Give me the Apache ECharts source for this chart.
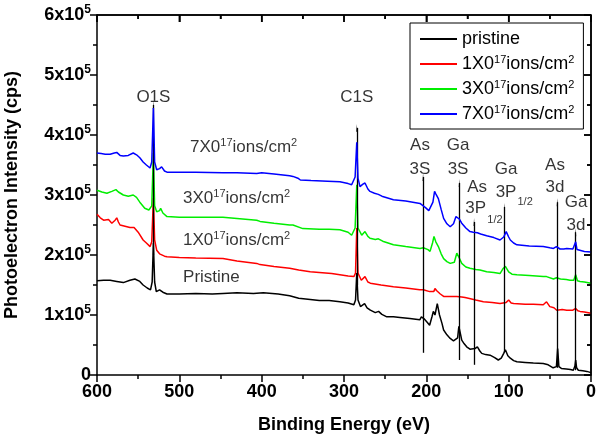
<!DOCTYPE html>
<html><head><meta charset="utf-8">
<script src="https://cdn.jsdelivr.net/npm/echarts@6/dist/echarts.min.js"></script>
<style>html,body{margin:0;padding:0;background:#fff}#c{width:600px;height:441px;background:#fff}#err{position:absolute;left:2px;top:428px;font:9px sans-serif;color:#999}</style>
</head><body><div id="c"></div><div id="err"></div>
<script>
// ---------- data ----------
const seriesNames = ['pristine', '1X0', '3X0', '7X0'];
const legendTexts = ['{n|pristine}', '{n|1X0}{s|17}{n|ions/cm}{s|2}', '{n|3X0}{s|17}{n|ions/cm}{s|2}', '{n|7X0}{s|17}{n|ions/cm}{s|2}'];
const seriesColors = ['#000000', '#ff0000', '#00ee00', '#0000ff'];
const yTickMantissa = ['0', '1', '2', '3', '4', '5', '6'];
const yTickExponent = '5';
const xTitle = 'Binding Energy (eV)';
const yTitle = 'Photoelectron Intensity (cps)';
const xRange = [0, 600];
const yRange = [0, 6e5];
const xTickValues = [0, 100, 200, 300, 400, 500, 600];
const xMinorValues = [50, 150, 250, 350, 450, 550];
const yTickValues = [0, 1e5, 2e5, 3e5, 4e5, 5e5, 6e5];
const yMinorValues = [0.5e5, 1.5e5, 2.5e5, 3.5e5, 4.5e5, 5.5e5];

const pristine = [
[600,1.57e5],[592,1.58e5],[584,1.58e5],[576,1.56e5],[568,1.54e5],[560,1.58e5],[554,1.60e5],[548,1.56e5],[544,1.50e5],[539,1.45e5],[535,1.42e5],[533,1.55e5],[531.5,2.20e5],[530,1.55e5],[528,1.39e5],[524,1.42e5],[520,1.38e5],[515,1.35e5],[500,1.35e5],[480,1.36e5],[460,1.35e5],[447,1.36e5],[430,1.37e5],[410,1.36e5],[398,1.37e5],[380,1.35e5],[366,1.32e5],[355,1.28e5],[341,1.26e5],[330,1.24e5],[318,1.24e5],[305,1.22e5],[295,1.20e5],[288,1.17e5],[286,1.25e5],[284.5,1.70e5],[283,1.25e5],[280,1.14e5],[275,1.19e5],[272,1.12e5],[268,1.08e5],[262,1.04e5],[258,1.06e5],[254,1.01e5],[248,0.97e5],[240,0.97e5],[232,0.96e5],[220,0.94e5],[208,0.92e5],[206,0.97e5],[203,0.94e5],[199,0.88e5],[196,0.83e5],[193,0.98e5],[191.5,1.06e5],[189.5,1.00e5],[186.7,1.19e5],[184,1.00e5],[181,0.86e5],[179,0.75e5],[175,0.67e5],[171,0.61e5],[167,0.57e5],[165,0.56e5],[162,0.62e5],[160.5,0.81e5],[158.5,0.68e5],[157,0.58e5],[154,0.52e5],[151,0.47e5],[147,0.43e5],[145,0.42e5],[141,0.44e5],[138,0.47e5],[135,0.40e5],[132.7,0.36e5],[128,0.34e5],[122.6,0.33e5],[117,0.29e5],[112.6,0.25e5],[109,0.28e5],[106,0.36e5],[104,0.42e5],[101,0.32e5],[98,0.28e5],[94,0.24e5],[90,0.22e5],[80,0.21e5],[70,0.20e5],[58,0.19e5],[52,0.17e5],[46,0.12e5],[42,0.14e5],[40.5,0.44e5],[39,0.14e5],[36,0.11e5],[30,0.10e5],[25,0.09e5],[21.5,0.08e5],[19.5,0.15e5],[18.6,0.25e5],[17.5,0.12e5],[15.4,0.08e5],[10,0.07e5],[5,0.06e5],[0,0.04e5]
];
const ion1 = [
[600,2.68e5],[596,2.62e5],[592,2.58e5],[586,2.59e5],[582,2.53e5],[578,2.58e5],[576,2.62e5],[574,2.55e5],[572,2.50e5],[566,2.48e5],[560,2.46e5],[555,2.46e5],[550,2.38e5],[544,2.25e5],[540,2.20e5],[535.5,2.14e5],[533.5,2.22e5],[531.5,2.95e5],[530,2.25e5],[527.5,2.08e5],[524,2.02e5],[522,2.04e5],[518,1.98e5],[515,1.97e5],[500,1.96e5],[480,1.95e5],[447,1.94e5],[430,1.90e5],[406,1.86e5],[402,1.84e5],[385,1.81e5],[366,1.78e5],[355,1.75e5],[341,1.72e5],[330,1.71e5],[315,1.69e5],[305,1.67e5],[295,1.65e5],[288,1.64e5],[286,1.70e5],[284.5,2.45e5],[283,1.70e5],[279,1.58e5],[274.5,1.64e5],[271,1.55e5],[268,1.53e5],[255,1.50e5],[240,1.47e5],[225,1.45e5],[208,1.42e5],[203.6,1.42e5],[196,1.39e5],[191,1.39e5],[189.5,1.44e5],[187,1.40e5],[183,1.35e5],[179,1.31e5],[170,1.31e5],[163,1.31e5],[157,1.30e5],[153,1.29e5],[151,1.32e5],[149,1.28e5],[140,1.25e5],[130.7,1.22e5],[120,1.21e5],[110.5,1.19e5],[103,1.21e5],[100,1.25e5],[97,1.20e5],[94,1.19e5],[80,1.18e5],[70,1.18e5],[58,1.17e5],[54,1.22e5],[50,1.14e5],[45,1.12e5],[41.6,1.08e5],[35,1.09e5],[29.5,1.08e5],[22,1.08e5],[18.6,1.11e5],[16,1.07e5],[13.3,1.06e5],[8,1.05e5],[0,1.03e5]
];
const ion3 = [
[600,3.08e5],[594,3.05e5],[588,3.03e5],[582,3.06e5],[577,3.09e5],[574,3.05e5],[568,3.00e5],[562,2.98e5],[556,3.00e5],[552,2.96e5],[548,2.88e5],[542,2.78e5],[537,2.75e5],[533.5,2.82e5],[531.5,3.70e5],[530,2.82e5],[527.5,2.72e5],[524,2.74e5],[522.7,2.78e5],[520,2.70e5],[515,2.64e5],[500,2.63e5],[480,2.63e5],[447,2.63e5],[430,2.61e5],[406,2.58e5],[402,2.56e5],[385,2.53e5],[366,2.50e5],[362,2.50e5],[350,2.44e5],[330,2.43e5],[318,2.43e5],[305,2.42e5],[295,2.38e5],[290.7,2.33e5],[286.5,2.45e5],[284.5,3.17e5],[283,2.45e5],[278.5,2.33e5],[274.5,2.39e5],[271,2.31e5],[268.4,2.28e5],[262,2.26e5],[258.3,2.27e5],[253,2.23e5],[240,2.17e5],[225,2.14e5],[207.7,2.11e5],[203.6,2.12e5],[198,2.09e5],[195.5,2.06e5],[192.5,2.20e5],[190.7,2.31e5],[188.5,2.22e5],[185.4,2.14e5],[182,2.02e5],[179,1.94e5],[175,1.89e5],[171,1.86e5],[166,1.88e5],[163,2.03e5],[160,1.95e5],[157,1.86e5],[152,1.80e5],[147,1.78e5],[140,1.76e5],[134.8,1.75e5],[126.7,1.72e5],[118,1.71e5],[110.5,1.69e5],[107,1.77e5],[104,1.81e5],[100,1.72e5],[96,1.68e5],[90,1.67e5],[75,1.66e5],[58,1.64e5],[54,1.64e5],[45.6,1.60e5],[42,1.62e5],[40,1.64e5],[37,1.60e5],[30,1.59e5],[25.5,1.58e5],[21,1.58e5],[18.6,1.67e5],[16.5,1.57e5],[13.3,1.56e5],[8,1.55e5],[0,1.53e5]
];
const ion7 = [
[600,3.70e5],[595,3.69e5],[590,3.68e5],[584,3.68e5],[579,3.70e5],[576,3.71e5],[572,3.66e5],[568,3.65e5],[562,3.66e5],[556,3.70e5],[552,3.67e5],[548,3.62e5],[544,3.55e5],[540,3.50e5],[535.6,3.45e5],[533.5,3.55e5],[531.5,4.45e5],[530,3.55e5],[527.5,3.42e5],[524,3.44e5],[521.5,3.47e5],[518,3.40e5],[515,3.38e5],[500,3.38e5],[480,3.38e5],[447,3.37e5],[430,3.37e5],[406,3.36e5],[400,3.37e5],[385,3.35e5],[366,3.32e5],[362,3.31e5],[356,3.28e5],[353,3.25e5],[340,3.24e5],[320,3.23e5],[305,3.22e5],[295,3.19e5],[290.7,3.17e5],[286.5,3.30e5],[284.5,3.88e5],[283,3.28e5],[280.6,3.14e5],[277,3.18e5],[274.5,3.20e5],[271,3.10e5],[268.4,3.06e5],[263,3.03e5],[258.3,3.01e5],[254,2.98e5],[240,2.92e5],[225,2.90e5],[207.7,2.86e5],[205.6,2.83e5],[201,2.79e5],[197,2.74e5],[195.5,2.72e5],[192,2.88e5],[190,3.06e5],[188.5,3.02e5],[185.4,2.94e5],[182,2.76e5],[179,2.61e5],[175,2.52e5],[171,2.47e5],[167,2.52e5],[164,2.64e5],[163,2.67e5],[160,2.60e5],[157,2.53e5],[152,2.45e5],[147,2.39e5],[143,2.38e5],[138,2.37e5],[134,2.35e5],[126.7,2.32e5],[118,2.29e5],[110.5,2.25e5],[106,2.30e5],[103,2.39e5],[100,2.30e5],[98,2.25e5],[94,2.20e5],[90,2.17e5],[75,2.15e5],[58,2.14e5],[50,2.12e5],[45.6,2.11e5],[42,2.14e5],[40,2.17e5],[37.6,2.10e5],[33,2.10e5],[29.5,2.11e5],[22,2.10e5],[18.6,2.22e5],[17,2.09e5],[15.4,2.08e5],[8,2.06e5],[0,2.05e5]
];

// arrows: [binding energy, from intensity, to intensity]
const arrows = [
[531.5, 2.0e5, 4.50e5],
[284.5, 1.5e5, 4.12e5],
[204, 0.37e5, 3.30e5],
[160, 0.25e5, 3.20e5],
[142, 0.17e5, 2.55e5],
[105, 0.38e5, 2.80e5],
[41, 0.12e5, 2.88e5],
[18.6, 0.08e5, 2.38e5]
];
// labels: [binding energy, intensity, text, align]
const annotations = [
[531.5, 4.63e5, '{n|O1S}', 'center'],
[284.5, 4.63e5, '{n|C1S}', 'center'],
[207.7, 3.83e5, '{n|As}', 'center'],
[207.7, 3.43e5, '{n|3S}', 'center'],
[161.5, 3.83e5, '{n|Ga}', 'center'],
[161.5, 3.43e5, '{n|3S}', 'center'],
[138.4, 3.12e5, '{n|As}', 'center'],
[140.0, 2.77e5, '{n|3P}', 'center'],
[116.6, 2.58e5, '{sub|1/2}', 'center'],
[103.2, 3.42e5, '{n|Ga}', 'center'],
[103.2, 3.05e5, '{n|3P}', 'center'],
[80.0, 2.88e5, '{sub|1/2}', 'center'],
[43.7, 3.50e5, '{n|As}', 'center'],
[43.7, 3.12e5, '{n|3d}', 'center'],
[18.2, 2.88e5, '{n|Ga}', 'center'],
[18.2, 2.50e5, '{n|3d}', 'center'],
[487, 3.80e5, '{n|7X0}{s|17}{n|ions/cm}{s|2}', 'left'],
[495.5, 2.95e5, '{n|3X0}{s|17}{n|ions/cm}{s|2}', 'left'],
[495.5, 2.25e5, '{n|1X0}{s|17}{n|ions/cm}{s|2}', 'left'],
[495.5, 1.63e5, '{n|Pristine}', 'left']
];

// ---------- chart ----------
const FONT = 'Liberation Sans, Arial, Helvetica, sans-serif';
const chart = echarts.init(document.getElementById('c'));
const errBox = document.getElementById('err');
function richFor(size) {
  return {
    n: {fontSize: size, fontFamily: FONT, color: '#000', lineHeight: 20},
    s: {fontSize: 11, fontFamily: FONT, color: '#000', verticalAlign: 'top', lineHeight: 10},
    sub: {fontSize: 11, fontFamily: FONT, color: '#000'}
  };
}
function axisLineStyle() { return {show: true, onZero: false, lineStyle: {color: '#000', width: 1.5}}; }
function tickStyle(inside) { return {show: true, inside: inside, length: 7, lineStyle: {color: '#000', width: 1.5}}; }
function minorStyle() { return {show: true, splitNumber: 2, length: 4, lineStyle: {color: '#000', width: 1.5}}; }
const lineData = [pristine, ion1, ion3, ion7];

const option = {
  animation: false,
  grid: {left: 97, right: 9, top: 15, bottom: 66, outerBoundsMode: 'none'},
  xAxis: [
    {
      type: 'value', min: xRange[0], max: xRange[1], interval: 100, inverse: true, position: 'bottom',
      splitLine: {show: false}, axisLine: axisLineStyle(), axisTick: tickStyle(false), minorTick: minorStyle(),
      axisLabel: {color: '#000', fontSize: 18, fontWeight: 'bold', fontFamily: FONT, margin: 8}
    },
    {
      type: 'value', min: xRange[0], max: xRange[1], interval: 100, inverse: true, position: 'top',
      splitLine: {show: false}, axisLine: axisLineStyle(), axisTick: tickStyle(true), minorTick: minorStyle(),
      axisLabel: {show: false}
    }
  ],
  yAxis: [
    {
      type: 'value', min: yRange[0], max: yRange[1], interval: 1e5, position: 'left',
      splitLine: {show: false}, axisLine: axisLineStyle(), axisTick: tickStyle(false), minorTick: minorStyle(),
      axisLabel: {
        margin: 6,
        formatter: function (v) {
          const m = yTickMantissa[Math.round(v / 1e5)];
          return m === '0' ? '{b|0}' : '{b|' + m + 'x10}{e|' + yTickExponent + '}';
        },
        rich: {
          b: {fontSize: 18, fontWeight: 'bold', fontFamily: FONT, color: '#000', lineHeight: 22},
          e: {fontSize: 12, fontWeight: 'bold', fontFamily: FONT, color: '#000', verticalAlign: 'top', lineHeight: 12}
        }
      }
    },
    {
      type: 'value', min: yRange[0], max: yRange[1], interval: 1e5, position: 'right',
      splitLine: {show: false}, axisLine: axisLineStyle(), axisTick: tickStyle(true), minorTick: minorStyle(),
      axisLabel: {show: false}
    }
  ],
  legend: {
    data: seriesNames,
    orient: 'vertical', left: 410, top: 23,
    padding: [7, 9, 6, 10], itemGap: 6, itemWidth: 37, itemHeight: 2, icon: 'rect',
    borderColor: '#000', borderWidth: 1, backgroundColor: '#fff',
    formatter: function (name) { return legendTexts[seriesNames.indexOf(name)]; },
    textStyle: {rich: richFor(18), fontSize: 18, fontFamily: FONT, color: '#000'}
  },
  series: [
    {type: 'scatter', xAxisIndex: 1, yAxisIndex: 1, symbolSize: 0, data: [[300, 3e5]], silent: true},
    {
      type: 'scatter', data: [], z: 1, silent: true, xAxisIndex: 0, yAxisIndex: 0,
      markLine: {
        silent: true, animation: false,
        symbol: ['none', 'triangle'], symbolSize: [1, 8],
        lineStyle: {color: '#000', width: 1.3, type: 'solid'},
        label: {show: false},
        data: arrows.map(a => [{coord: [a[0], a[1]]}, {coord: [a[0], a[2]]}])
      }
    }
  ].concat(lineData.map((d, i) => ({
    type: 'line', name: seriesNames[i], data: d, showSymbol: false, symbol: 'none',
    z: 2 + i, lineStyle: {color: seriesColors[i], width: 1.5}, itemStyle: {color: seriesColors[i]},
    silent: true
  }))).concat([{
    type: 'scatter', z: 10, symbolSize: 0, silent: true,
    data: annotations.map(a => ({
      value: [a[0], a[1]],
      label: {
        show: true, color: '#000',
        position: a[3] === 'left' ? 'right' : 'inside',
        distance: 0,
        formatter: a[2],
        rich: richFor(17)
      }
    }))
  }])
};
try { chart.setOption(option); } catch (e) { errBox.textContent = 'opt: ' + e.message; }

// Axis titles and frame (top / right lines with inward ticks), placed through the chart's own axes
try {
  const finder = {xAxisIndex: 0, yAxisIndex: 0};
  const px = (x, y) => chart.convertToPixel(finder, [x, y]);
  const els = [];
  const st = {stroke: '#000', lineWidth: 1.5};
  const addLine = (a, b) => els.push({type: 'line', z: 100, silent: true,
    shape: {x1: a[0], y1: a[1], x2: b[0], y2: b[1]}, style: st});
  const tl = px(xRange[1], yRange[1]), tr = px(xRange[0], yRange[1]), br = px(xRange[0], yRange[0]);
  const bl = px(xRange[1], yRange[0]);
  addLine(tl, tr);
  addLine(tr, br);
  xTickValues.forEach(v => { const p = px(v, yRange[1]); addLine(p, [p[0], p[1] + 7]); });
  xMinorValues.forEach(v => { const p = px(v, yRange[1]); addLine(p, [p[0], p[1] + 4]); });
  yTickValues.forEach(v => { const p = px(xRange[0], v); addLine(p, [p[0] - 7, p[1]]); });
  yMinorValues.forEach(v => { const p = px(xRange[0], v); addLine(p, [p[0] - 4, p[1]]); });
  const titleFont = 'bold 18px ' + FONT;
  els.push({type: 'text', silent: true, z: 100,
    x: (bl[0] + br[0]) / 2, y: bl[1] + 50,
    style: {text: xTitle, font: titleFont, fill: '#000', textAlign: 'center', textVerticalAlign: 'middle', align: 'center', verticalAlign: 'middle'}});
  els.push({type: 'text', silent: true, z: 100,
    x: bl[0] - 85, y: (tl[1] + bl[1]) / 2, rotation: Math.PI / 2,
    style: {text: yTitle, font: titleFont, fill: '#000', textAlign: 'center', textVerticalAlign: 'middle', align: 'center', verticalAlign: 'middle'}});
  chart.setOption({graphic: {elements: els}});
} catch (e) { errBox.textContent += ' gfx: ' + e.message; }
</script>
</body></html>
